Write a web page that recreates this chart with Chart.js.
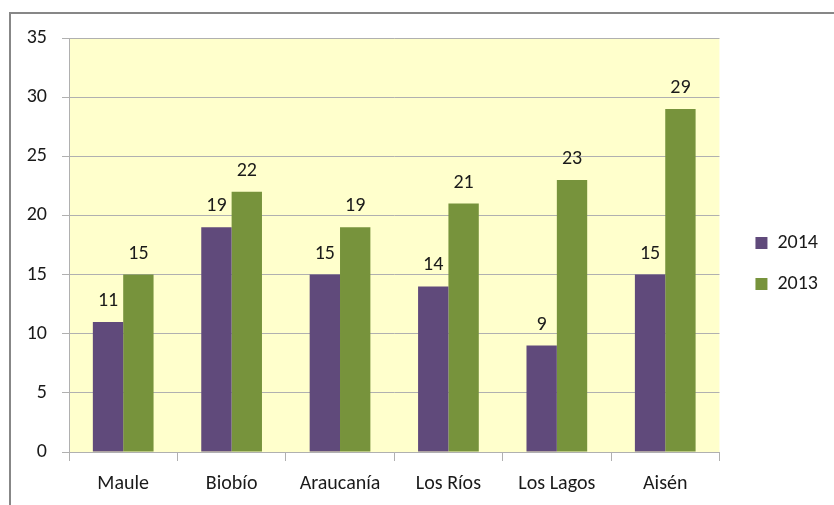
<!DOCTYPE html>
<html>
<head>
<meta charset="utf-8">
<script src="https://cdn.jsdelivr.net/npm/chart.js"></script>
<style>
  html, body { margin: 0; padding: 0; background: #fff; }
  #wrap { width: 834px; height: 505px; position: relative; }
</style>
</head>
<body>
<div id="wrap"><canvas id="salesChart"></canvas></div>
<script>
const regions = ['Maule', 'Biobío', 'Araucanía', 'Los Ríos', 'Los Lagos', 'Aisén'];
const values2014 = [11, 19, 15, 14, 9, 15];
const values2013 = [15, 22, 19, 21, 23, 29];
const yTicks = [0, 5, 10, 15, 20, 25, 30, 35];

const FONT = 'Carlito, Lato, sans-serif';
const gridGray = '#b0b0b0';

// yellow plot background + outer frame
const bgPlugin = {
    id: 'plotBg',
    afterLayout(chart) {
        // nudge legend a bit right and up, like the original
        const lg = chart.legend;
        lg.left += 15;
        lg.right += 15;
        lg.top -= 8;
        lg.bottom -= 8;
    },
    beforeDraw(chart) {
        const { ctx, chartArea: a } = chart;
        ctx.save();
        ctx.fillStyle = '#ffffcc';
        ctx.fillRect(a.left, a.top, a.right - a.left, a.bottom - a.top);
        ctx.fillStyle = '#878787';
        ctx.fillRect(9, 12, 2, chart.height - 12);
        ctx.fillRect(9, 12, chart.width - 9, 2);
        ctx.restore();
    }
};

// value labels above bars
const valueLabels = {
    id: 'valueLabels',
    afterDatasetsDraw(chart) {
        const ctx = chart.ctx;
        ctx.save();
        ctx.font = '20px ' + FONT;
        ctx.fillStyle = '#1a1a1a';
        ctx.textAlign = 'center';
        ctx.textBaseline = 'alphabetic';
        chart.data.datasets.forEach((ds, i) => {
            chart.getDatasetMeta(i).data.forEach((bar, j) => {
                ctx.fillText(ds.data[j], bar.x, bar.y - 16);
            });
        });
        ctx.restore();
    }
};

var ctx = document.getElementById('salesChart').getContext('2d');
var chart = new Chart(ctx, {
    type: 'bar',
    data: {
        labels: regions,
        datasets: [{
            label: '2014',
            data: values2014,
            backgroundColor: '#604a7b',
            borderWidth: 0
        }, {
            label: '2013',
            data: values2013,
            backgroundColor: '#77933c',
            borderWidth: 0
        }]
    },
    options: {
        responsive: true,
        maintainAspectRatio: false,
        animation: false,
        layout: { padding: { top: 38, left: 0, right: 21, bottom: 0 } },
        datasets: { bar: { categoryPercentage: 0.56, barPercentage: 1.0 } },
        plugins: {
            tooltip: { enabled: false },
            legend: {
                position: 'right',
                labels: {
                    font: { family: FONT, size: 20 },
                    color: '#1a1a1a',
                    boxWidth: 12,
                    boxHeight: 12,
                    padding: 21
                }
            }
        },
        scales: {
            x: {
                grid: {
                    drawOnChartArea: false,
                    tickLength: 9,
                    color: gridGray,
                    offset: true
                },
                border: { color: gridGray },
                ticks: {
                    font: { family: FONT, size: 20 },
                    color: '#1a1a1a',
                    padding: 11
                },
                afterFit(scale) { scale.height = 53; }
            },
            y: {
                min: 0,
                max: 35,
                afterBuildTicks(scale) { scale.ticks = yTicks.map(v => ({ value: v })); },
                grid: { color: gridGray, tickLength: 7 },
                border: { color: gridGray },
                ticks: {
                    font: { family: FONT, size: 20 },
                    color: '#1a1a1a',
                    padding: 15
                },
                afterFit(scale) { scale.width = 69; }
            }
        }
    },
    plugins: [bgPlugin, valueLabels]
});
</script>
</body>
</html>
